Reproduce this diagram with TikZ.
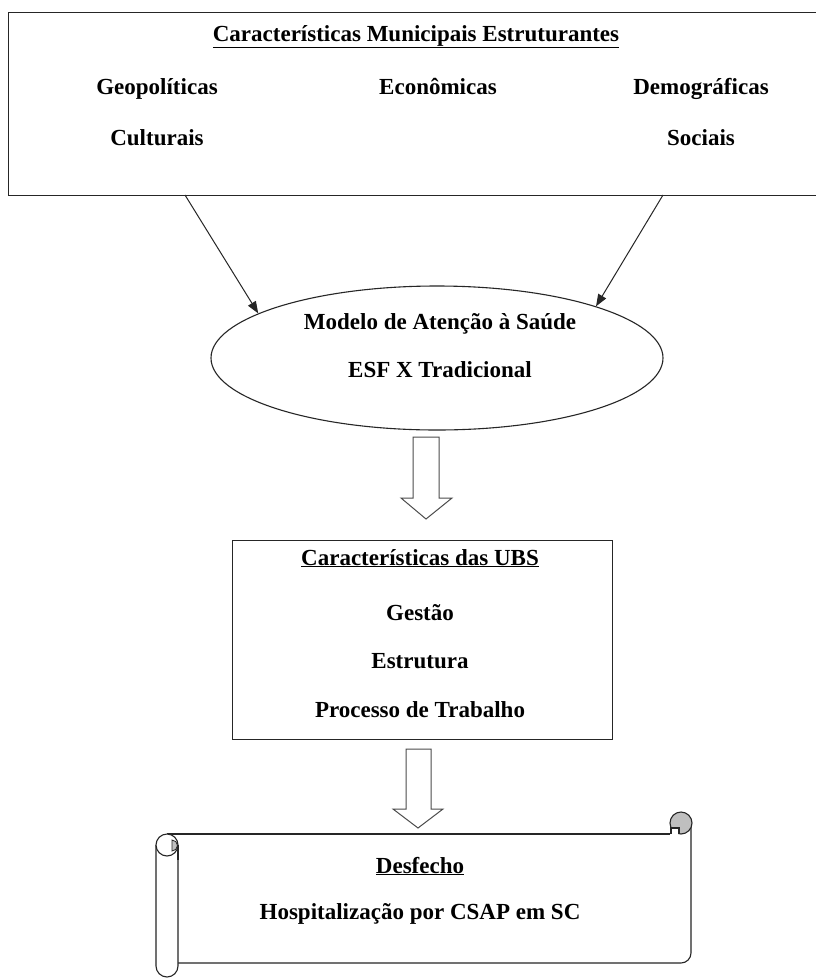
\documentclass[tikz,border=0pt]{standalone}
\usepackage{fontspec}
\setmainfont{Liberation Serif}
\usetikzlibrary{shapes.geometric,arrows.meta}
\begin{document}
\begin{tikzpicture}[x=1pt,y=1pt,
  lbl/.style={font=\fontsize{23}{27}\selectfont\bfseries, inner sep=0pt, anchor=base},
  frame/.style={draw=black!85, line width=1.1pt},
  conn/.style={draw=black!85, line width=1pt, -{Triangle[length=12pt,width=9pt]}},
  blockarrow/.style={draw=black!70, line width=1pt, fill=white},
  rollgrey/.style={fill=black!25}
]
\useasboundingbox (0,0) rectangle (815,-978);
\fill[white] (0,0) rectangle (815,-978);

% top box
\node[frame, anchor=north west, minimum width=814pt, minimum height=183pt, inner sep=0pt] (top) at (8,-12) {};
\node[lbl] (t0) at (416,-41) {\underline{Características Municipais Estruturantes}};
\node[lbl] (t1) at (157,-94) {Geopolíticas};
\node[lbl] (t2) at (438,-94) {Econômicas};
\node[lbl] (t3) at (701,-94) {Demográficas};
\node[lbl] (t4) at (157,-145) {Culturais};
\node[lbl] (t5) at (701,-145) {Sociais};

% ellipse
\node[frame, ellipse, minimum width=452pt, minimum height=144pt, inner sep=0pt] (ell) at (437,-358) {};
\node[lbl] (e1) at (440,-329) {Modelo de Atenção à Saúde};
\node[lbl] (e2) at (440,-377) {ESF X Tradicional};

\coordinate (s1) at (185,-195);
\coordinate (s2) at (663,-195);
\draw[conn] (s1) -- (ell.166);
\draw[conn] (s2) -- (ell.18);

% block arrow 1
\draw[blockarrow] (413,-437) -- (439,-437) -- (439,-498) -- (452,-498) -- (426,-519) -- (401,-498) -- (413,-498) -- cycle;

% UBS box
\node[frame, anchor=north west, minimum width=380pt, minimum height=199pt, inner sep=0pt] (ubs) at (232,-540) {};
\node[lbl] (u0) at (420,-565) {\underline{Características das UBS}};
\node[lbl] (u1) at (420,-620) {Gestão};
\node[lbl] (u2) at (420,-668) {Estrutura};
\node[lbl] (u3) at (420,-717) {Processo de Trabalho};

% block arrow 2
\draw[blockarrow] (406,-749) -- (431,-749) -- (431,-809) -- (443,-809) -- (418,-828) -- (393,-809) -- (406,-809) -- cycle;

% scroll
\draw[frame] (167,-834) -- (670,-834);
\draw[frame] (691,-826) -- (691,-953) arc[start angle=0,end angle=-90,radius=10] -- (178,-963);
% top right curl
\draw[frame, rollgrey] (681,-823) circle[radius=11];
\draw[frame, fill=white] (671,-834) -- (671,-828) -- (679,-828) -- (679,-834);
% left roll
\draw[frame, fill=white] (178,-845) -- (178,-966) arc[start angle=0,end angle=-180,radius=11] -- (156,-845);
\draw[frame, fill=white] (167,-845) circle[radius=11];
\draw[draw=black!85, line width=0.8pt, rollgrey] (172,-840) arc[start angle=90,end angle=-90,radius=5.5] -- cycle;
\draw[frame] (178,-845) -- (178,-860);

\node[lbl] (d0) at (420,-873) {\underline{Desfecho}};
\node[lbl] (d1) at (420,-919) {Hospitalização por CSAP em SC};
\end{tikzpicture}
\end{document}
